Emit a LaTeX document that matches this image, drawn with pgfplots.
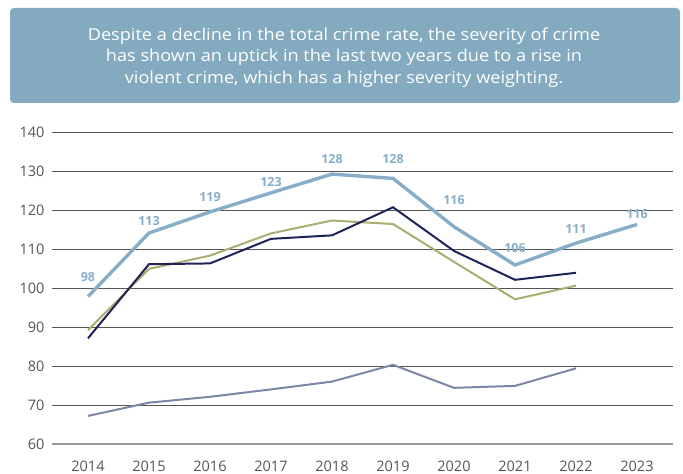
\documentclass[border=0pt]{standalone}
\usepackage{pgfplots}
\pgfplotsset{compat=1.18}
\usepackage{fontspec}
\setmainfont{Open Sans}
\newfontfamily\titlefont[FakeStretch=1.1]{Open Sans}

\definecolor{boxblue}{HTML}{84AAC0}
\definecolor{sevblue}{HTML}{86AEC8}
\definecolor{navy}{HTML}{1E2358}
\definecolor{olive}{HTML}{A9AD6F}
\definecolor{slate}{HTML}{7B87A4}
\definecolor{gridgray}{HTML}{555555}
\definecolor{basegray}{HTML}{9A9A9A}
\definecolor{ticktext}{HTML}{555555}

\begin{document}
\begin{tikzpicture}[x=1pt,y=1pt]
\useasboundingbox (0,0) rectangle (683,474);
% title box
\fill[boxblue, rounded corners=4pt] (10,371) rectangle (680,466);
\node[text=white, align=center, font=\titlefont\fontsize{16.5}{21.5}\selectfont] at (344,416.5)
  {Despite a decline in the total crime rate, the severity of crime\\
   has shown an uptick in the last two years due to a rise in\\
   violent crime, which has a higher severity weighting.};

\begin{axis}[
    at={(52pt,30pt)}, anchor=south west,
    scale only axis, width=621pt, height=312pt,
    xmin=2013.41, xmax=2023.59, ymin=60, ymax=140,
    clip=false,
    axis line style={draw=none},
    major tick length=0pt,
    xtick={2014,...,2023},
    ytick={70,80,...,140},
    extra y ticks={60},
    extra y tick style={grid style={basegray, line width=1.4pt}},
    ymajorgrids,
    grid style={gridgray, line width=0.8pt},
    /pgf/number format/1000 sep={},
    /pgf/number format/assume math mode=true,
    ticklabel style={text=ticktext, font=\fontsize{14.5}{17}\selectfont},
    yticklabel style={xshift=-4pt},
    xticklabel style={yshift=-13pt},
]
\addplot[slate, line width=2pt, mark=none] coordinates {
  (2014,67.2) (2015,70.6) (2016,72.1) (2017,74.0) (2018,76.0)
  (2019,80.3) (2020,74.4) (2021,74.9) (2022,79.4)};
\addplot[olive, line width=2pt, mark=none] coordinates {
  (2014,89.2) (2015,104.9) (2016,108.3) (2017,114.0) (2018,117.3)
  (2019,116.4) (2020,106.7) (2021,97.1) (2022,100.6)};
\addplot[navy, line width=2pt, mark=none] coordinates {
  (2014,87.1) (2015,106.1) (2016,106.3) (2017,112.6) (2018,113.5)
  (2019,120.7) (2020,109.5) (2021,102.1) (2022,103.9)};
\addplot[sevblue, line width=3.4pt, mark=none] coordinates {
  (2014,97.8) (2015,114.1) (2016,119.5) (2017,124.4) (2018,129.2)
  (2019,128.1) (2020,115.7) (2021,105.9) (2022,111.5) (2023,116.3)};
% value labels, placed where the reference shows them
\addplot[draw=none, mark=none,
    nodes near coords, point meta=explicit symbolic,
    every node near coord/.append style={
      font=\bfseries\fontsize{12.5}{14}\selectfont, text=sevblue,
      anchor=center}] coordinates {
  (2014,102.9)[98] (2015,117.2)[113] (2016,123.3)[119] (2017,127.2)[123]
  (2018,133.1)[128] (2019,133.1)[128] (2020,122.6)[116] (2021,110.3)[106]
  (2022,115.1)[111] (2023,119.0)[116]};
\end{axis}
\end{tikzpicture}
\end{document}
